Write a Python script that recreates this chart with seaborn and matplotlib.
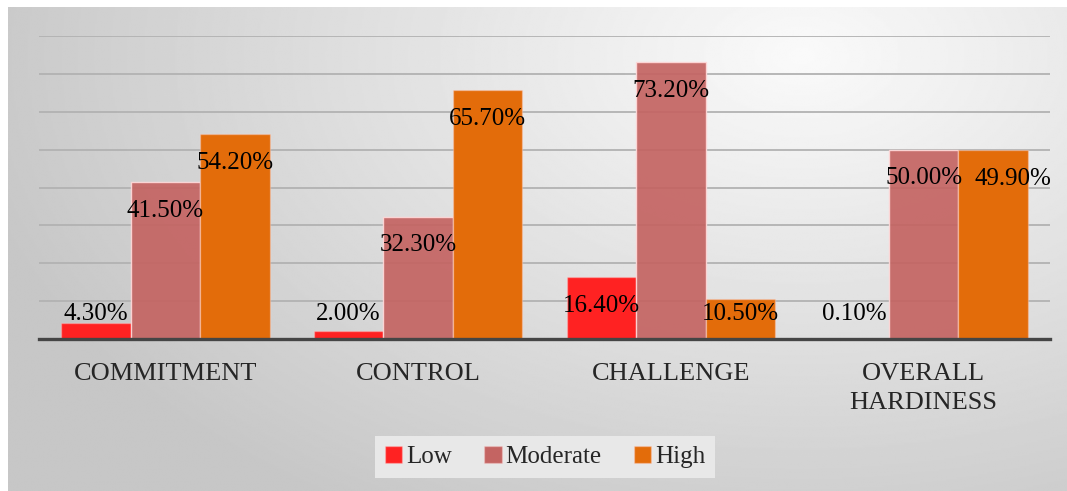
import numpy as np
import pandas as pd
import seaborn as sns
import matplotlib.pyplot as plt

# data
categories = ["COMMITMENT", "CONTROL", "CHALLENGE", "OVERALL\nHARDINESS"]
levels = ["Low", "Moderate", "High"]
low = [4.3, 2.0, 16.4, 0.1]
moderate = [41.5, 32.3, 73.2, 50.0]
high = [54.2, 65.7, 10.5, 49.9]
colors = ["#ff2222", "#c46462", "#e36c0a"]

df = pd.DataFrame({
    "category": categories * 3,
    "level": ["Low"] * 4 + ["Moderate"] * 4 + ["High"] * 4,
    "value": low + moderate + high,
})

sns.set_style("white")
plt.rcParams["font.family"] = ["Liberation Serif", "DejaVu Serif"]

fig = plt.figure(figsize=(10.67, 4.91), dpi=100)
fig.patch.set_facecolor("white")

# gradient chart-area background
bg = fig.add_axes([8 / 1067, 0, 1 - 8 / 1067, 484 / 491], zorder=-2)
yy, xx = np.mgrid[0:1:300j, 0:1:600j]
d = np.sqrt(((xx - 0.75) / 0.8) ** 2 + ((yy - 0.1) / 1.1) ** 2)
shade = 0.98 - 0.2 * np.clip(d, 0, 1)
bg.imshow(shade, cmap="gray", vmin=0, vmax=1, aspect="auto",
          extent=[0, 1, 1, 0], interpolation="bilinear")
bg.axis("off")

ax = fig.add_axes([39 / 1067, 152 / 491, 1011 / 1067, 303 / 491])
ax.patch.set_alpha(0)

sns.barplot(data=df, x="category", y="value", hue="level",
            hue_order=levels, palette=colors, width=0.825, gap=0,
            saturation=1, ax=ax, zorder=3,
            edgecolor=(1, 0.85, 0.85, 0.35), linewidth=1)

# moderate bars are slightly see-through in the original
for bar in ax.containers[1]:
    bar.set_alpha(0.92)

ax.set_ylim(0, 80)
ax.set_xlim(-0.5, 3.5)
ax.set_yticks(np.arange(0, 81, 10))
ax.yaxis.grid(True, color="#b2b2b2", linewidth=1.3, zorder=0)
ax.set_axisbelow(True)
ax.tick_params(axis="y", left=False, labelleft=False)
ax.tick_params(axis="x", length=0, pad=17, labelsize=19)
for lab in ax.get_xticklabels():
    lab.set_linespacing(1.45)
ax.set_xlabel("")
ax.set_ylabel("")
for s in ["top", "left", "right"]:
    ax.spines[s].set_visible(False)
ax.spines["bottom"].set_color("#454545")
ax.spines["bottom"].set_linewidth(2.4)
ax.spines["bottom"].set_zorder(5)

# data labels: inside end, but kept above the axis for short bars
fig.canvas.draw()
renderer = fig.canvas.get_renderer()
for i in range(len(categories)):
    prev_right = None
    for cont in ax.containers:
        bar = cont[i]
        h = bar.get_height()
        xc = bar.get_x() + bar.get_width() / 2
        t = ax.text(xc, max(h - 7.6, 6.6), f"{h:.2f}%", ha="center",
                    va="center", fontsize=18, color="black", zorder=6)
        bb = t.get_window_extent(renderer)
        # push a label right if it runs into its neighbour
        if prev_right is not None and bb.x0 < prev_right and abs(
                bb.y0 - prev_bb.y0) < bb.height:
            shift = prev_right - bb.x0 + 12
            x_disp = ax.transData.transform((xc, 0))[0] + shift
            t.set_x(ax.transData.inverted().transform((x_disp, 0))[0])
            bb = t.get_window_extent(renderer)
        prev_right = bb.x1
        prev_bb = bb

leg = ax.legend(loc="center", bbox_to_anchor=(545 / 1067, 1 - 457 / 491),
                bbox_transform=fig.transFigure, ncol=3, fontsize=18,
                frameon=True, fancybox=False, handlelength=0.7,
                handleheight=0.7, handletextpad=0.15, columnspacing=1.3,
                borderpad=0.4)
leg.get_frame().set_facecolor("#e8e8e8")
leg.get_frame().set_edgecolor("none")
leg.get_frame().set_alpha(1)

fig.savefig("out.png", dpi=100)
